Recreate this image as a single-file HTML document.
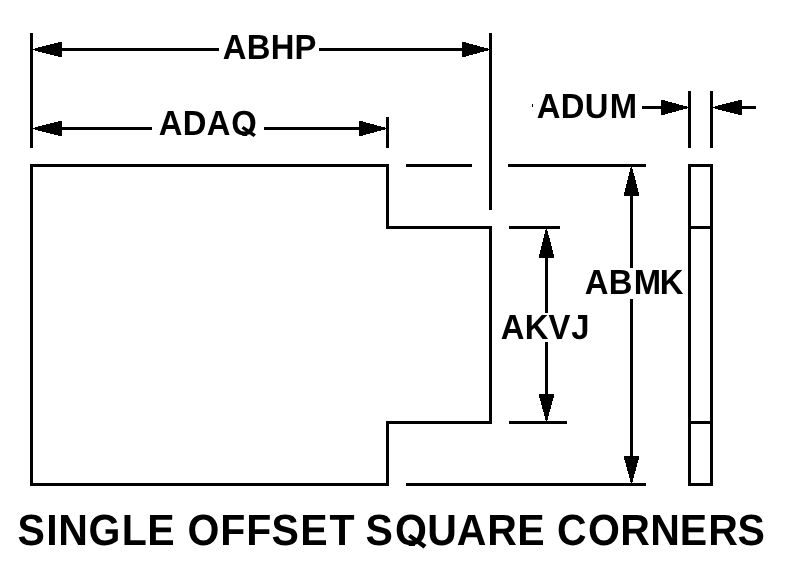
<!DOCTYPE html>
<html><head><meta charset="utf-8">
<style>
html,body{margin:0;padding:0;background:#fff;}
body{width:790px;height:569px;overflow:hidden;position:relative;}
svg{position:absolute;left:0;top:0;display:block;will-change:transform;}
text{font-family:"Liberation Sans",sans-serif;font-weight:bold;fill:#000;}
</style></head><body>
<svg width="790" height="569" viewBox="0 0 790 569">
<rect x="0" y="0" width="790" height="569" fill="#fff"/>
<g fill="#000" shape-rendering="crispEdges">
<rect x="30" y="33" width="3" height="115"/>
<rect x="489" y="33" width="3" height="177"/>
<rect x="60" y="48" width="159" height="3"/>
<rect x="319" y="48" width="145" height="3"/>
<rect x="60" y="127" width="92" height="3"/>
<rect x="264" y="127" width="97" height="3"/>
<rect x="386" y="117" width="3" height="31"/>
<rect x="30" y="164" width="359" height="3"/>
<rect x="30" y="164" width="3" height="322"/>
<rect x="30" y="483" width="359" height="3"/>
<rect x="386" y="164" width="3" height="65"/>
<rect x="386" y="226" width="106" height="3"/>
<rect x="489" y="226" width="3" height="198"/>
<rect x="386" y="421" width="106" height="3"/>
<rect x="386" y="421" width="3" height="65"/>
<rect x="406" y="164" width="66" height="3"/>
<rect x="508" y="164" width="138" height="3"/>
<rect x="406" y="483" width="240" height="3"/>
<rect x="509" y="226" width="51" height="3"/>
<rect x="509" y="421" width="58" height="3"/>
<rect x="545" y="256" width="3" height="57"/>
<rect x="545" y="342" width="3" height="54"/>
<rect x="630" y="194" width="3" height="74"/>
<rect x="630" y="299" width="3" height="159"/>
<rect x="688" y="164" width="25" height="3"/>
<rect x="688" y="483" width="25" height="3"/>
<rect x="688" y="164" width="3" height="322"/>
<rect x="710" y="164" width="3" height="322"/>
<rect x="688" y="226" width="25" height="3"/>
<rect x="688" y="421" width="25" height="3"/>
<rect x="688" y="91" width="3" height="57"/>
<rect x="710" y="91" width="3" height="57"/>
<rect x="642" y="106" width="21" height="3"/>
<rect x="740" y="106" width="16" height="3"/>
<rect x="532" y="104" width="1" height="3"/>
</g>
<g fill="#000" shape-rendering="crispEdges">
<polygon points="33,48.9 60,42 62,42 62,57 60,57 33,50.1"/>
<polygon points="489,48.9 464,42 462,42 462,57 464,57 489,50.1"/>
<polygon points="33,127.9 60,121 62,121 62,136 60,136 33,129.1"/>
<polygon points="386,127.9 361,121 359,121 359,136 361,136 386,129.1"/>
<polygon points="688,106.9 663,100 661,100 661,115 663,115 688,108.1"/>
<polygon points="713,106.9 740,100 742,100 742,115 740,115 713,108.1"/>
<polygon points="545.9,229 539,256 539,258 554,258 554,256 547.1,229"/>
<polygon points="545.9,421 539,396 539,394 554,394 554,396 547.1,421"/>
<polygon points="630.9,167 624,194 624,196 639,196 639,194 632.1,167"/>
<polygon points="630.9,483 624,458 624,456 639,456 639,458 632.1,483"/>
</g>
<g text-rendering="geometricPrecision">
<text transform="translate(0,59) scale(0.940,1)" x="236.90 262.56 287.94 313.33" y="0" font-size="34.88">ABHP</text>
<text transform="translate(0,135) scale(0.940,1)" x="168.81 194.42 219.88 246.02" y="0" font-size="34.88">ADAQ</text>
<text transform="translate(0,118) scale(0.940,1)" x="570.94 596.54 622.00 648.77" y="0" font-size="34.88">ADUM</text>
<text transform="translate(0,294) scale(0.940,1)" x="622.00 647.67 674.30 701.82" y="0" font-size="34.88">ABMK</text>
<text transform="translate(0,339) scale(0.940,1)" x="532.64 558.21 583.58 607.72" y="0" font-size="34.88">AKVJ</text>
<text transform="translate(0,545) scale(0.940,1)" y="0" font-size="43.61"><tspan x="18.66 49.26 61.93 94.14 129.51 156.66">SINGLE</tspan> <tspan x="199.55 234.43 262.09 288.87 319.43 350.50">OFFSET</tspan> <tspan x="388.87 420.30 454.49 485.88 518.35 550.28">SQUARE</tspan> <tspan x="592.47 625.62 659.84 691.71 723.15 753.46 784.62">CORNERS</tspan></text>
</g>
<g shape-rendering="crispEdges" fill="#fff">
<rect x="233" y="136" width="28" height="10"/>
<rect x="398" y="546" width="34" height="14"/>
</g>
<g fill="#000">
<polygon points="243.5,126 256,134.5 253.5,137 241.5,128.5"/>
<polygon points="410.5,534 426.5,545 423.5,548.5 408,537"/>
</g>
</svg>
</body></html>
